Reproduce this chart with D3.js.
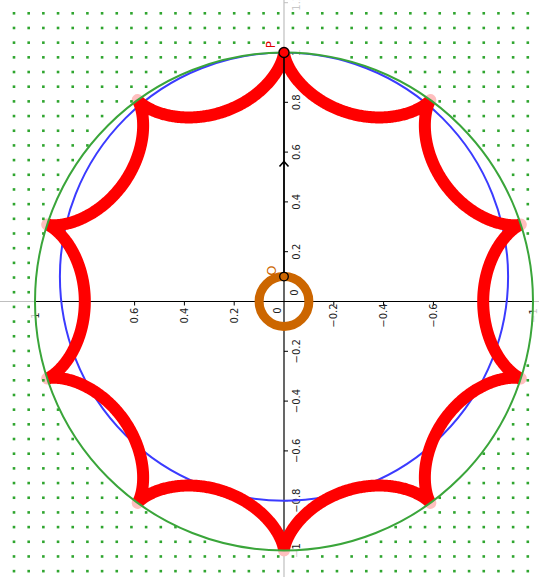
<!DOCTYPE html>
<html>
<head>
<meta charset="utf-8">
<script src="https://cdn.jsdelivr.net/npm/d3@7"></script>
<style>
  html, body { margin: 0; padding: 0; background: #fff; }
  svg { display: block; }
  text { font-family: "DejaVu Sans", sans-serif; }
</style>
</head>
<body>
<div id="chart"></div>
<script>
// ---------------- data ----------------
const xTickValues = [1, 0.8, 0.6, 0.4, 0.2, -0.2, -0.4, -0.6, -0.8, -1];
const yTickValues = [1.2, 1, 0.8, 0.6, 0.4, 0.2, -0.2, -0.4, -0.6, -0.8, -1];
const hypoOuterRadius = 1;      // fixed circle
const hypoRollingRadius = 0.1;  // rolling circle -> 10 cusps
const hypoRotationDeg = 90;     // a cusp at the top
const greenCircle = { center: [0, 0], radius: 1 };
const orangeCircle = { center: [0, 0], radius: 0.1 };
const pointO = [0, 0.1];
const pointP = [0, 1];
const blueCircle = { center: pointO, radius: 0.9 };

// ---------------- layout ----------------
const width = 539, height = 577;
const cx = 284, cy = 301.5, unit = 249;
const x = d3.scaleLinear().domain([-1, 1]).range([cx + unit, cx - unit]); // reversed axis
const y = d3.scaleLinear().domain([-1, 1]).range([cy + unit, cy - unit]);
const k = (x(0) - x(1)); // px per unit

const svg = d3.select("#chart").append("svg")
  .attr("width", width).attr("height", height);
svg.append("rect").attr("width", width).attr("height", height).attr("fill", "#fff");

// ---------------- axes ----------------
const axes = svg.append("g");
axes.append("line").attr("x1", 0).attr("x2", width).attr("y1", y(0)).attr("y2", y(0))
  .attr("stroke", "#000").attr("stroke-width", 1.2);
axes.append("line").attr("x1", x(0)).attr("x2", x(0)).attr("y1", 0).attr("y2", height)
  .attr("stroke", "#000").attr("stroke-width", 1.2);

const fmt = d3.format("");
const fmtLabel = v => (v < 0 ? "\u2212" : "") + fmt(Math.abs(v));

// x ticks (below axis, rotated labels)
xTickValues.forEach(v => {
  axes.append("line").attr("x1", x(v)).attr("x2", x(v)).attr("y1", y(0)).attr("y2", y(0) + 4)
    .attr("stroke", "#000").attr("stroke-width", 1);
  axes.append("text")
    .attr("transform", `translate(${x(v)},${y(0) + 14}) rotate(-90)`)
    .attr("text-anchor", "middle").attr("dominant-baseline", "central")
    .attr("font-size", 10).attr("fill", "#222").text(fmtLabel(v));
});
// y ticks (right of axis, rotated labels)
yTickValues.forEach(v => {
  axes.append("line").attr("x1", x(0)).attr("x2", x(0) + 4).attr("y1", y(v)).attr("y2", y(v))
    .attr("stroke", "#000").attr("stroke-width", 1);
  axes.append("text")
    .attr("transform", `translate(${x(0) + 12},${y(v)}) rotate(-90)`)
    .attr("text-anchor", "middle").attr("dominant-baseline", "central")
    .attr("font-size", 10).attr("fill", "#222").text(fmtLabel(v));
});
// origin labels
axes.append("text").attr("transform", `translate(${x(0) - 7},${y(0) + 9}) rotate(-90)`)
  .attr("text-anchor", "middle").attr("dominant-baseline", "central")
  .attr("font-size", 10).attr("fill", "#222").text("0");
axes.append("text").attr("transform", `translate(${x(0) + 10},${y(0) - 9}) rotate(-90)`)
  .attr("text-anchor", "middle").attr("dominant-baseline", "central")
  .attr("font-size", 10).attr("fill", "#222").text("0");

// ---------------- curves ----------------
const curves = svg.append("g");

// blue circle (centre O through P)
curves.append("circle").attr("cx", x(blueCircle.center[0])).attr("cy", y(blueCircle.center[1]))
  .attr("r", blueCircle.radius * k).attr("fill", "none").attr("stroke", "#3b3bff").attr("stroke-width", 2);

// hypocycloid
const R = hypoOuterRadius, r = hypoRollingRadius, rot = hypoRotationDeg * Math.PI / 180;
const N = 2400;
const hypo = d3.range(N + 1).map(i => {
  const t = 2 * Math.PI * i / N;
  const px = (R - r) * Math.cos(t) + r * Math.cos((R - r) / r * t);
  const py = (R - r) * Math.sin(t) - r * Math.sin((R - r) / r * t);
  return [px * Math.cos(rot) - py * Math.sin(rot), px * Math.sin(rot) + py * Math.cos(rot)];
});
curves.append("path").datum(hypo)
  .attr("d", d3.line().x(d => x(d[0])).y(d => y(d[1])))
  .attr("fill", "none").attr("stroke", "#ff0000").attr("stroke-width", 12)
  .attr("stroke-linejoin", "round").attr("stroke-linecap", "round");

// orange rolling circle
curves.append("circle").attr("cx", x(orangeCircle.center[0])).attr("cy", y(orangeCircle.center[1]))
  .attr("r", orangeCircle.radius * k).attr("fill", "none").attr("stroke", "#cc6600").attr("stroke-width", 9);

// vector O -> P
curves.append("line").attr("x1", x(pointO[0])).attr("y1", y(pointO[1]))
  .attr("x2", x(pointP[0])).attr("y2", y(pointP[1]))
  .attr("stroke", "#000").attr("stroke-width", 1.6);
const mx = (x(pointO[0]) + x(pointP[0])) / 2, my = (y(pointO[1]) + y(pointP[1])) / 2 - 3;
curves.append("path").attr("d", `M${mx - 4.5},${my + 5}L${mx},${my}L${mx + 4.5},${my + 5}`)
  .attr("fill", "none").attr("stroke", "#000").attr("stroke-width", 1.6);

// ---------------- fade outside the green circle ----------------
const gR = greenCircle.radius * k, gx = x(greenCircle.center[0]), gy = y(greenCircle.center[1]);
const outsidePath = `M0,0H${width}V${height}H0Z M${gx - gR},${gy}a${gR},${gR} 0 1,0 ${2 * gR},0a${gR},${gR} 0 1,0 ${-2 * gR},0Z`;
svg.append("path").attr("d", outsidePath).attr("fill", "#fff").attr("fill-opacity", 0.75)
  .attr("fill-rule", "evenodd");

// ---------------- dot grid (outside circle) ----------------
const gridStartX = 14, gridStartY = 13.3, gridStep = 14.68;
const dots = [];
for (let i = 0; gridStartX + i * gridStep < width; i++) {
  for (let j = 0; gridStartY + j * gridStep < height; j++) {
    dots.push([gridStartX + i * gridStep, gridStartY + j * gridStep]);
  }
}
svg.append("g").selectAll("rect")
  .data(dots.filter(d => Math.hypot(d[0] - gx, d[1] - gy) > gR + 1))
  .join("rect")
  .attr("x", d => d[0] - 1.3).attr("y", d => d[1] - 1.3)
  .attr("width", 2.6).attr("height", 2.6).attr("fill", "#2fa52f");

// green circle
svg.append("circle").attr("cx", gx).attr("cy", gy).attr("r", gR)
  .attr("fill", "none").attr("stroke", "#3aa53a").attr("stroke-width", 2);

// ---------------- points ----------------
svg.append("circle").attr("cx", x(pointP[0])).attr("cy", y(pointP[1])).attr("r", 5)
  .attr("fill", "#ff0000").attr("stroke", "#000").attr("stroke-width", 1.3);
svg.append("circle").attr("cx", x(pointO[0])).attr("cy", y(pointO[1])).attr("r", 4.3)
  .attr("fill", "#cc6600").attr("stroke", "#000").attr("stroke-width", 1.3);

svg.append("text").attr("transform", `translate(${x(pointP[0]) - 13},${y(pointP[1]) - 8}) rotate(-90)`)
  .attr("text-anchor", "middle").attr("dominant-baseline", "central")
  .attr("font-size", 12).attr("fill", "#e00000").text("P");
svg.append("text").attr("transform", `translate(${x(pointO[0]) - 13},${y(pointO[1]) - 6}) rotate(-90)`)
  .attr("text-anchor", "middle").attr("dominant-baseline", "central")
  .attr("font-size", 13).attr("fill", "#cc6600").text("O");
</script>
</body>
</html>
